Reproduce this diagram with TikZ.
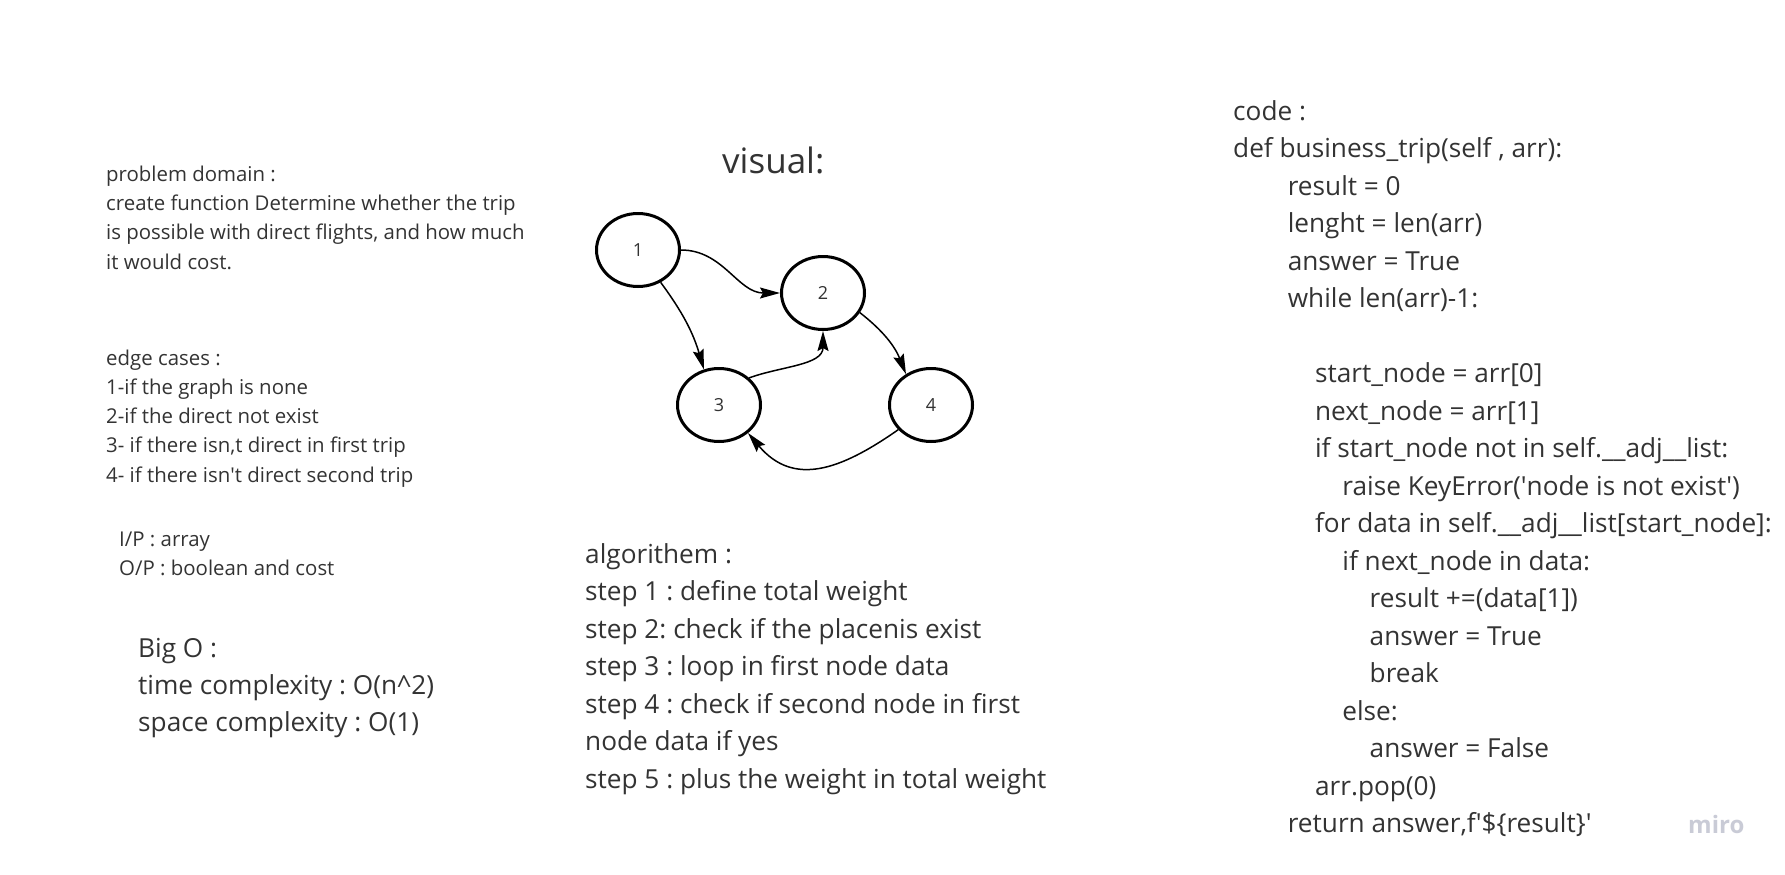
\documentclass[tikz,border=0pt]{standalone}
\usepackage{fontspec}
\setmainfont{Open Sans}
\usetikzlibrary{arrows.meta,shapes.geometric}
\definecolor{inktext}{HTML}{333333}
\definecolor{mirogray}{HTML}{C9CBD6}

\tikzset{
  city/.style={ellipse, draw=black, line width=3pt, minimum width=83pt, minimum height=73pt,
    inner sep=0pt, text=inktext, font=\fontsize{18}{20}\selectfont},
  flight/.style={->, line width=1.5pt},
  smalltxt/.style={anchor=base west, inner sep=0pt, text=inktext, font=\fontsize{20.4}{24}\selectfont},
  bigtxt/.style={anchor=base west, inner sep=0pt, text=inktext, font=\fontsize{26.2}{30}\selectfont},
}

\begin{document}
\frenchspacing
\begin{tikzpicture}[x=1pt, y=-1pt, >={Stealth[length=20pt,width=11pt,inset=3pt]}]

\useasboundingbox (0,0) rectangle (1785,875);

% problem domain
\foreach \ln/\txt in {0/problem domain :, 1/create function Determine whether the trip,
  2/{is possible with direct flights, and how much}, 3/it would cost.}
  \node[smalltxt] (prob\ln) at (106, 181.5+29.2*\ln) {\txt};

% edge cases
\foreach \ln/\txt in {0/edge cases :, 1/1-if the graph is none, 2/2-if the direct not exist,
  3/{3- if there isn,t direct in first trip}, 4/4- if there isn\textquotesingle t direct second trip}
  \node[smalltxt] (edge\ln) at (106, 365+29.3*\ln) {\txt};

\node[smalltxt] (inp) at (119, 546) {I/P : array};
\node[smalltxt] (outp) at (119, 575) {O/P : boolean and cost};

% big O
\foreach \ln/\txt in {0/Big O :, 1/time complexity : O(n\^{}2), 2/space complexity : O(1)}
  \node[bigtxt] (bigo\ln) at (138, 657+37*\ln) {\txt};

% visual
\node[anchor=base west, inner sep=0pt, text=inktext, font=\fontsize{35}{40}\selectfont] (visual) at (722, 173) {visual:};

\node[city] (n1) at (638, 250) {1};
\node[city] (n2) at (823, 293) {2};
\node[city] (n3) at (719, 405) {3};
\node[city] (n4) at (931, 405) {4};

\draw[flight] (n1.east) to[out=0, in=180] (n2.west);
\draw[flight] (n1.-55) to[bend left=10] (n3.113);
\draw[flight] (n2.-28) to[bend left=15] (n4.129);
\draw[flight] (n3.42) to[out=20, in=-90] (n2.south);
\draw[flight] (n4.-143) to[out=-145, in=-50, looseness=1.2] (n3.-44);

% algorithm
\foreach \ln/\txt in {0/algorithem :, 1/step 1 : define total weight, 2/step 2: check if the placenis exist,
  3/step 3 : loop in first node data, 4/step 4 : check if second node in first,
  5/node data if yes, 6/step 5 : plus the weight in total weight}
  \node[bigtxt] (algo\ln) at (585, 563+37.5*\ln) {\txt};

% code
\foreach \ln/\ind/\txt in {0/0/code :, 1/0/{def business\_trip(self , arr):},
  2/2/result = 0, 3/2/lenght = len(arr), 4/2/answer = True, 5/2/while len(arr)-1:,
  7/3/start\_node = arr[0], 8/3/next\_node = arr[1],
  9/3/if start\_node not in self.\_\_adj\_\_list:,
  10/4/raise KeyError(\textquotesingle node is not exist\textquotesingle),
  11/3/for data in self.\_\_adj\_\_list[start\_node]:,
  12/4/if next\_node in data:, 13/5/result +=(data[1]), 14/5/answer = True,
  15/5/break, 16/4/else:, 17/5/answer = False, 18/3/arr.pop(0),
  19/2/return answer{,}f\textquotesingle\$\{result\}\textquotesingle}
  \node[bigtxt] (code\ln) at (1233+27.3*\ind, 120+37.5*\ln) {\txt};

% logo
\node[anchor=base west, inner sep=0pt, text=mirogray, font=\fontsize{24}{28}\selectfont\bfseries] (logo) at (1688, 833) {miro};

\end{tikzpicture}
\end{document}
